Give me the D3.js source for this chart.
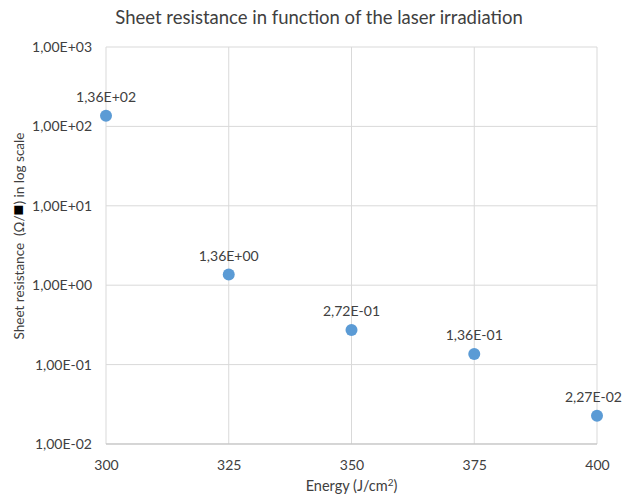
<!DOCTYPE html>
<html>
<head>
<meta charset="utf-8">
<script src="https://cdn.jsdelivr.net/npm/d3@7"></script>
<style>
  body { margin: 0; background: #fff; }
  text { font-family: Lato, "Open Sans", sans-serif; fill: #404040; }
</style>
</head>
<body>
<div id="chart"></div>
<script>
var energy = [300, 325, 350, 375, 400];
var resistance = [136, 1.36, 0.272, 0.136, 0.0227];
var pointLabels = ["1,36E+02", "1,36E+00", "2,72E-01", "1,36E-01", "2,27E-02"];
var xTicks = [300, 325, 350, 375, 400];
var yTicks = [1e-2, 1e-1, 1, 10, 100, 1000];
var yTickLabels = ["1,00E-02", "1,00E-01", "1,00E+00", "1,00E+01", "1,00E+02", "1,00E+03"];

var svgWidth = 624, svgHeight = 495;
var margin = { top: 47, right: 27, bottom: 51, left: 106 };
var chartWidth = svgWidth - margin.left - margin.right;
var chartHeight = svgHeight - margin.top - margin.bottom;

var svg = d3.select("#chart").append("svg")
    .attr("width", svgWidth)
    .attr("height", svgHeight);

var chartGroup = svg.append("g")
    .attr("transform", `translate(${margin.left}, ${margin.top})`);

var x = d3.scaleLinear().domain([300, 400]).range([0, chartWidth]);
var y = d3.scaleLog().domain([1e-2, 1e3]).range([chartHeight, 0]);

// gridlines
chartGroup.selectAll(".hgrid").data(yTicks).enter().append("line")
    .attr("x1", 0).attr("x2", chartWidth)
    .attr("y1", d => y(d)).attr("y2", d => y(d))
    .attr("stroke", "#d9d9d9").attr("stroke-width", 1);
chartGroup.selectAll(".vgrid").data(xTicks).enter().append("line")
    .attr("x1", d => x(d)).attr("x2", d => x(d))
    .attr("y1", 0).attr("y2", chartHeight)
    .attr("stroke", "#d9d9d9").attr("stroke-width", 1);

// bottom axis line
chartGroup.append("line")
    .attr("x1", 0).attr("x2", chartWidth)
    .attr("y1", chartHeight).attr("y2", chartHeight)
    .attr("stroke", "#bfbfbf").attr("stroke-width", 1);

// axes (labels only)
var bottomAxis = d3.axisBottom(x).tickValues(xTicks).tickSize(0).tickPadding(16);
var xg = chartGroup.append("g")
    .attr("transform", `translate(0, ${chartHeight})`)
    .call(bottomAxis);
xg.select(".domain").remove();
xg.selectAll("text").attr("font-size", 14).style("font-family", "Lato, sans-serif").attr("fill", "#404040");

var leftAxis = d3.axisLeft(y).tickValues(yTicks)
    .tickFormat((d, i) => yTickLabels[i]).tickSize(0).tickPadding(14);
var yg = chartGroup.append("g").call(leftAxis);
yg.select(".domain").remove();
yg.selectAll("text").attr("font-size", 14).style("font-family", "Lato, sans-serif").attr("fill", "#404040");

// points
var pts = energy.map((e, i) => ({ e: e, r: resistance[i], label: pointLabels[i] }));
chartGroup.selectAll("circle").data(pts).enter().append("circle")
    .attr("cx", d => x(d.e))
    .attr("cy", d => y(d.r))
    .attr("r", 6)
    .attr("fill", "#5b9bd5");

chartGroup.selectAll(".plabel").data(pts).enter().append("text")
    .attr("x", d => x(d.e))
    .attr("y", d => y(d.r) - 14)
    .attr("text-anchor", "middle")
    .attr("font-size", 14)
    .text(d => d.label)
    .each(function(d) {
        // keep the last label inside the window, like Excel does
        var w = this.getComputedTextLength();
        var maxX = svgWidth - margin.left - 2 - w / 2;
        if (x(d.e) > maxX) d3.select(this).attr("x", maxX);
    });

// title
svg.append("text")
    .attr("x", 319).attr("y", 24)
    .attr("text-anchor", "middle")
    .attr("font-size", 18.5)
    .text("Sheet resistance in function of the laser irradiation");

// x axis title
var xt = svg.append("text")
    .attr("x", margin.left + chartWidth / 2).attr("y", 491)
    .attr("text-anchor", "middle")
    .attr("font-size", 14.5);
xt.append("tspan").text("Energy (J/cm");
xt.append("tspan").attr("font-size", 10).attr("dy", -5).text("2");
xt.append("tspan").attr("dy", 5).text(")");

// y axis title
var yt = svg.append("text")
    .attr("transform", "translate(24, 236) rotate(-90)")
    .attr("text-anchor", "middle")
    .attr("font-size", 13.5)
    .attr("xml:space", "preserve");
yt.append("tspan").text("Sheet resistance  (\u03A9/");
yt.append("tspan").attr("font-size", 18).style("fill", "#000").text("\u25A0");
yt.append("tspan").text(") in log scale");
</script>
</body>
</html>
